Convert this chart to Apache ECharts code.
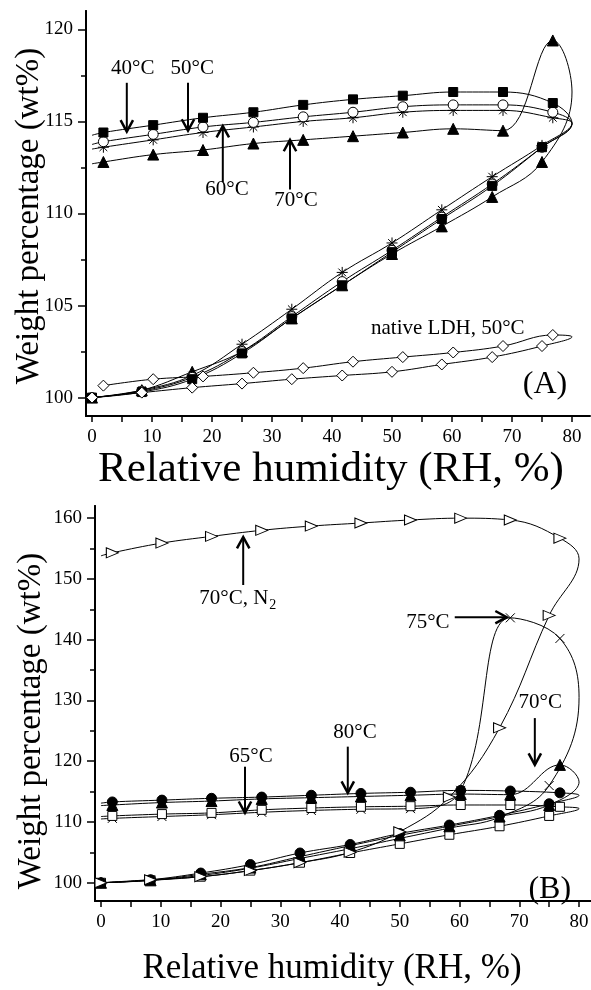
<!DOCTYPE html>
<html>
<head>
<meta charset="utf-8">
<script src="https://cdn.jsdelivr.net/npm/echarts@6/dist/echarts.min.js"></script>
<style>
  html, body { margin: 0; padding: 0; background: #fff; }
  #main { width: 591px; height: 990px; }
</style>
</head>
<body>
<div id="main"></div>
<script>
// RH steps (%) - sorption goes up, desorption comes back down
var adsX = [0, 8.3, 16.7, 25, 33.3, 41.7, 50, 58.3, 66.7, 75];
var desX = [76.8, 68.5, 60.2, 51.8, 43.5, 35.2, 26.9, 18.5, 10.2, 1.9];
var turnX = 80;
var endX = 0;

// ---- panel A ----
var a40Ads = [100.0, 100.3, 101.0, 102.4, 104.3, 106.1, 107.9, 109.7, 111.5, 113.6];
var a40Turn = 114.9;
var a40Des = [116.0, 116.6, 116.6, 116.4, 116.2, 115.9, 115.5, 115.2, 114.8, 114.4];
var a40End = 114.25;

var a50Ads = [100.0, 100.35, 101.1, 102.5, 104.4, 106.3, 108.0, 109.8, 111.6, 113.6];
var a50Turn = 114.9;
var a50Des = [115.5, 115.9, 115.9, 115.8, 115.5, 115.25, 114.95, 114.7, 114.3, 113.9];
var a50End = 113.75;

var a60Ads = [100.0, 100.4, 101.2, 102.9, 104.8, 106.8, 108.4, 110.2, 112.0, 113.7];
var a60Turn = 114.9;
var a60Des = [115.2, 115.6, 115.6, 115.5, 115.2, 115.0, 114.7, 114.4, 114.0, 113.6];
var a60End = 113.5;

// 70°C run (same run appears in both panels)
var t70Ads = [100.0, 100.4, 101.4, 102.5, 104.3, 106.1, 107.8, 109.3, 110.9, 112.8];
var t70Turn = 116.6;
var t70Des = [119.4, 114.5, 114.6, 114.4, 114.2, 114.0, 113.8, 113.45, 113.2, 112.8];
var t70End = 112.7;

var natAds = [100.0, 100.27, 100.54, 100.76, 101.0, 101.2, 101.4, 101.8, 102.2, 102.8];
var natTurn = 103.3;
var natDes = [103.4, 102.8, 102.45, 102.2, 101.95, 101.6, 101.35, 101.15, 101.0, 100.65];

// ---- panel B ----
var b65Ads = [100.0, 100.4, 101.0, 102.0, 103.3, 104.9, 106.4, 107.9, 109.3, 111.0];
var b65Turn = 112.2;
var b65Des = [112.5, 112.8, 112.8, 112.6, 112.5, 112.3, 112.0, 111.5, 111.3, 111.0];
var b65End = 110.9;

var b75Ads = [100.0, 100.4, 101.2, 102.4, 104.0, 105.6, 107.3, 109.0, 110.8, 116.0];
var b75Turn = 130.5;
var b75Des = [140.2, 143.6, 115.2, 112.2, 112.1, 111.9, 111.6, 111.2, 110.9, 110.6];
var b75End = 110.5;

var b80Ads = [100.0, 100.5, 101.6, 103.0, 104.9, 106.3, 108.1, 109.5, 111.1, 113.0];
var b80Turn = 114.4;
var b80Des = [114.8, 115.1, 115.2, 114.9, 114.7, 114.4, 114.1, 113.9, 113.6, 113.3];
var b80End = 113.1;

var n2Ads = [100.0, 100.5, 101.0, 102.0, 103.3, 105.0, 108.4, 114.1, 125.5, 144.0];
var n2Turn = 153.3;
var n2Des = [156.7, 159.7, 160.0, 159.7, 159.2, 158.7, 158.0, 157.0, 155.9, 154.3];
var n2End = 153.8;

// tick values
var xTicks = [0, 5, 10, 15, 20, 25, 30, 35, 40, 45, 50, 55, 60, 65, 70, 75, 80];
var xLabels = [0, 10, 20, 30, 40, 50, 60, 70, 80];
var aYMajor = [100, 105, 110, 115, 120];
var aYMinor = [102.5, 107.5, 112.5, 117.5];
var bYMajor = [100, 110, 120, 130, 140, 150, 160];
var bYMinor = [105, 115, 125, 135, 145, 155];

// annotations in data units: [text, textX, textY, arrowFromX, arrowFromY, arrowToX, arrowToY]
var notesA = [
  ['40°C', 6.8, 117.9, 5.8, 117.1, 5.8, 114.45],
  ['50°C', 16.7, 117.9, 16.0, 117.1, 16.0, 114.5],
  ['60°C', 22.5, 111.3, 21.8, 111.7, 21.8, 114.75],
  ['70°C', 34.0, 110.7, 33.0, 111.3, 33.0, 114.0]
];
var notesB = [
  ['65°C', 25.1, 120.7, 24.1, 119.1, 24.1, 111.5],
  ['80°C', 42.5, 124.8, 41.3, 122.4, 41.3, 114.8],
  ['70°C', 73.5, 129.6, 72.6, 127.1, 72.6, 119.4],
  ['75°C', 54.7, 142.9, 59.2, 143.7, 67.9, 143.7]
];
var noteN2 = [22.9, 146.85, 23.8, 149.0, 23.8, 156.9];

var serif = '"Liberation Serif", "DejaVu Serif", serif';
var ASTER = 'path://M5,0L5,10M0,5L10,5M1.5,1.5L8.5,8.5M1.5,8.5L8.5,1.5';
var CROSS = 'path://M0,0L10,10M0,10L10,0';

function loop(ads, turn, des, end) {
  var d = [];
  for (var i = 0; i < adsX.length; i++) d.push({ value: [adsX[i], ads[i]] });
  d.push({ value: [turnX, turn], symbol: 'none' });
  for (var j = 0; j < desX.length; j++) d.push({ value: [desX[j], des[j]] });
  if (end != null) d.push({ value: [endX, end], symbol: 'none' });
  return d;
}

function ser(name, panel, data, symbol, size, filled, rotate) {
  return {
    name: name, type: 'line',
    xAxisIndex: panel, yAxisIndex: panel * 2,
    data: data, smooth: 0.4,
    symbol: symbol, symbolSize: size, symbolRotate: rotate || 0,
    lineStyle: { color: '#000', width: 1 },
    itemStyle: { color: filled ? '#000' : '#fff', borderColor: '#000', borderWidth: 1 },
    emphasis: { disabled: true },
    silent: true
  };
}

function xAx(panel, max) {
  return {
    type: 'value', gridIndex: panel, min: -1, max: max,
    axisLine: { onZero: false, lineStyle: { color: '#000', width: 2 } },
    axisTick: { show: true, length: 6, customValues: xTicks, lineStyle: { color: '#000', width: 1.5 } },
    axisLabel: { customValues: xLabels, color: '#000', fontFamily: serif, fontSize: 19, margin: 12 },
    splitLine: { show: false }
  };
}

function yAx(panel, min, max, ticks, major) {
  return {
    type: 'value', gridIndex: panel, min: min, max: max, position: 'left',
    axisLine: { onZero: false, lineStyle: { color: '#000', width: 2 } },
    axisTick: { show: true, length: major ? 8 : 5, customValues: ticks, lineStyle: { color: '#000', width: 1.5 } },
    axisLabel: major ? { customValues: ticks, color: '#000', fontFamily: serif, fontSize: 19, margin: 13 } : { show: false },
    splitLine: { show: false }
  };
}

var chart = echarts.init(document.getElementById('main'), null, { renderer: 'canvas' });

chart.setOption({
  animation: false,
  backgroundColor: '#fff',
  grid: [
    { left: 86, top: 11, width: 504, height: 405, outerBoundsMode: 'none' },
    { left: 95, top: 506, width: 496, height: 395, outerBoundsMode: 'none' }
  ],
  xAxis: [xAx(0, 83), xAx(1, 82)],
  yAxis: [
    yAx(0, 99, 121, aYMajor, true),
    yAx(0, 99, 121, aYMinor, false),
    yAx(1, 97, 162, bYMajor, true),
    yAx(1, 97, 162, bYMinor, false)
  ],
  series: [
    ser('60°C', 0, loop(a60Ads, a60Turn, a60Des, a60End), ASTER, 11, false),
    ser('70°C', 0, loop(t70Ads, t70Turn, t70Des, t70End), 'triangle', 11, true),
    ser('50°C', 0, loop(a50Ads, a50Turn, a50Des, a50End), 'circle', 10, false),
    ser('40°C', 0, loop(a40Ads, a40Turn, a40Des, a40End), 'rect', 9, true),
    ser('native LDH, 50°C', 0, loop(natAds, natTurn, natDes, null), 'diamond', 11, false),

    ser('75°C', 1, loop(b75Ads, b75Turn, b75Des, b75End), CROSS, 9, false),
    ser('65°C', 1, loop(b65Ads, b65Turn, b65Des, b65End), 'rect', 9, false),
    ser('70°C', 1, loop(t70Ads, t70Turn, t70Des, t70End), 'triangle', 11, true),
    ser('80°C', 1, loop(b80Ads, b80Turn, b80Des, b80End), 'circle', 10, true),
    ser('70°C, N2', 1, loop(n2Ads, n2Turn, n2Des, n2End), 'triangle', [10, 12], false, -90)
  ]
});

// ---- annotations ----
function px(seriesIndex, x, y) {
  return chart.convertToPixel({ seriesIndex: seriesIndex }, [x, y]);
}

function txt(text, p, size, rot) {
  return {
    type: 'text', x: p[0], y: p[1], rotation: rot || 0, silent: true,
    style: {
      text: text, fill: '#000', fontFamily: serif, fontSize: size,
      align: 'center', verticalAlign: 'middle', textAlign: 'center', textVerticalAlign: 'middle'
    }
  };
}

function arrow(p1, p2) {
  var ang = Math.atan2(p2[1] - p1[1], p2[0] - p1[0]);
  var L = 13, a = 0.5;
  var h1 = [p2[0] - L * Math.cos(ang - a), p2[1] - L * Math.sin(ang - a)];
  var h2 = [p2[0] - L * Math.cos(ang + a), p2[1] - L * Math.sin(ang + a)];
  return [
    { type: 'line', silent: true, shape: { x1: p1[0], y1: p1[1], x2: p2[0], y2: p2[1] }, style: { stroke: '#000', lineWidth: 2 } },
    { type: 'polyline', silent: true, shape: { points: [h1, p2, h2] }, style: { stroke: '#000', lineWidth: 2.5, fill: null } }
  ];
}

var g = [];
notesA.forEach(function (n) {
  g.push(txt(n[0], px(0, n[1], n[2]), 21));
  g = g.concat(arrow(px(0, n[3], n[4]), px(0, n[5], n[6])));
});
notesB.forEach(function (n) {
  g.push(txt(n[0], px(5, n[1], n[2]), 21));
  g = g.concat(arrow(px(5, n[3], n[4]), px(5, n[5], n[6])));
});

// "70°C, N2" with a subscript 2
var ctx = document.createElement('canvas').getContext('2d');
ctx.font = '21px "Liberation Serif"';
var wMain = ctx.measureText('70°C, N').width;
var pN2 = px(5, noteN2[0], noteN2[1]);
var left = pN2[0] - (wMain + 8) / 2;
g.push({
  type: 'text', x: left, y: pN2[1], silent: true,
  style: { text: '70°C, N', fill: '#000', fontFamily: serif, fontSize: 21, align: 'left', verticalAlign: 'middle', textAlign: 'left', textVerticalAlign: 'middle' }
});
g.push({
  type: 'text', x: left + wMain + 1, y: pN2[1] + 7, silent: true,
  style: { text: '2', fill: '#000', fontFamily: serif, fontSize: 14, align: 'left', verticalAlign: 'middle', textAlign: 'left', textVerticalAlign: 'middle' }
});
g = g.concat(arrow(px(5, noteN2[2], noteN2[3]), px(5, noteN2[4], noteN2[5])));

g.push(txt('native LDH, 50°C', px(0, 59.3, 103.78), 21));
g.push(txt('(A)', px(0, 75.5, 100.68), 32));
g.push(txt('(B)', px(5, 75.1, 98.85), 32));

// axis titles
g.push(txt('Weight percentage (wt%)', [29, 216], 33, Math.PI / 2));
g.push(txt('Relative humidity (RH, %)', [331, 470], 43));
g.push(txt('Weight percentage (wt%)', [31, 721], 33, Math.PI / 2));
g.push(txt('Relative humidity (RH, %)', [332, 969], 35));

chart.setOption({ graphic: g });
</script>
</body>
</html>
